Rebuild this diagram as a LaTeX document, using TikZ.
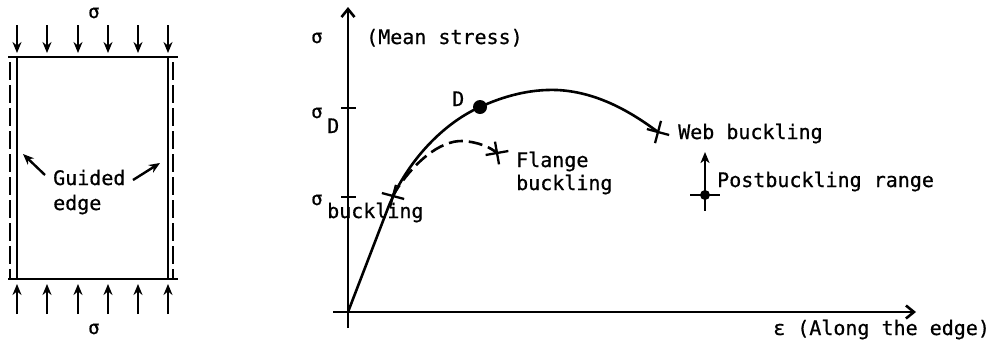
\documentclass[tikz,border=0pt]{standalone}
\usepackage{fontspec}
\newfontfamily\tw{DejaVu Sans Mono}[FakeBold=0.7]
\usetikzlibrary{arrows.meta,shapes.misc}
\begin{document}
\begin{tikzpicture}[x=1pt,y=-1pt,
  txt/.style={font=\tw\fontsize{20}{24}\selectfont, inner sep=0pt, anchor=base west},
  sig/.style={font=\tw\fontsize{19}{22}\selectfont, inner sep=0pt, anchor=base west},
  ln/.style={line width=2.6pt},
  load/.style={line width=2.4pt, -{Stealth[length=11pt,width=9pt]}},
  dash18/.style={line width=2.4pt, dash pattern=on 18pt off 5pt},
  axis/.style={line width=2.6pt, -{Straight Barb[length=8pt,width=13pt,line width=2.6pt]}},
  starmark/.style={draw, cross out, line width=2.3pt, minimum size=14pt, inner sep=0pt},
]
\useasboundingbox (0,0) rectangle (992,349);
% ---- left panel ----
\coordinate (tl) at (8,57); \coordinate (tr) at (178,57);
\coordinate (bl) at (8,279); \coordinate (br) at (178,279);
\draw[ln] (tl) -- (tr);
\draw[ln] (bl) -- (br);
\draw[ln] (17,57) -- (17,279);
\draw[ln] (168,57) -- (168,279);
\draw[dash18] (10,62) -- (10,279);
\draw[dash18] (173,62) -- (173,279);
\foreach \x in {17,47,78,108,138,168}{
  \draw[load] (\x,25) -- (\x,53);
  \draw[load] (\x,314) -- (\x,284);
}
\node[sig] (st) at (88,18) {σ};
\node[sig] (sb) at (88,334) {σ};
\node[txt] (guided) at (53,185) {Guided};
\node[txt] (edge) at (53,210) {edge};
\coordinate (ga1) at (45,175); \coordinate (ga2) at (23,154);
\coordinate (gb1) at (133,180); \coordinate (gb2) at (160,163);
\draw[load] (ga1) -- (ga2);
\draw[load] (gb1) -- (gb2);
% ---- right panel ----
\coordinate (O) at (348,312);
\coordinate (ybot) at (348,328);
\coordinate (ytop) at (348,7);
\coordinate (xl) at (333,312);
\coordinate (xr) at (916,312);
\draw[axis] (ybot) -- (ytop);
\draw[axis] (xl) -- (xr);
\draw[ln] (341,108) -- (356,108);
\draw[ln] (341,197) -- (356,197);
\node[sig] (sy) at (311,43) {σ};
\node[txt] (ms) at (366,44) {(Mean stress)};
\node[sig] (sd) at (311,118) {σ};
\node[txt] (sdd) at (327,133) {D};
\node[sig] (sbk) at (311,205) {σ};
\node[txt] (sbk2) at (327,218) {buckling};
\node[txt] (dl) at (452,106) {D};
% curves
\draw[ln] (O) -- (388,208) .. controls (405,165) and (440,125) .. (480,107)
   .. controls (504,96) and (530,89) .. (557,90)
   .. controls (600,92) and (635,115) .. (658,132);
\draw[ln, dash pattern=on 14pt off 6pt] (392,197) .. controls (412,163) and (440,140) .. (463,141)
   .. controls (478,142) and (490,147) .. (497,153);
\node[starmark, rotate=30] (bk) at (393,196) {};
\node[starmark, rotate=55] (fl) at (497,153) {};
\node[starmark, rotate=30] (wb) at (658,132) {};
\node[circle, fill=black, inner sep=0pt, minimum size=14pt] (Dp) at (480,107) {};
\node[txt] (fl1) at (516,167) {Flange};
\node[txt] (fl2) at (516,190) {buckling};
\node[txt] (wbl) at (678,139) {Web buckling};
% postbuckling
\node[circle, fill=black, inner sep=0pt, minimum size=10pt] (pb) at (705,195) {};
\coordinate (pbl) at (690,195); \coordinate (pbr) at (720,195);
\coordinate (pbd) at (705,211); \coordinate (pbu) at (705,152);
\draw[ln] (pbl) -- (pbr);
\draw[ln] (pb.center) -- (pbd);
\draw[ln, -{Stealth[length=11pt,width=9pt,inset=3pt]}] (pb.center) -- (pbu);
\node[txt] (pbt) at (717,187) {Postbuckling range};
\node[txt] (eps) at (773,335) {ε (Along the edge)};
\end{tikzpicture}
\end{document}
